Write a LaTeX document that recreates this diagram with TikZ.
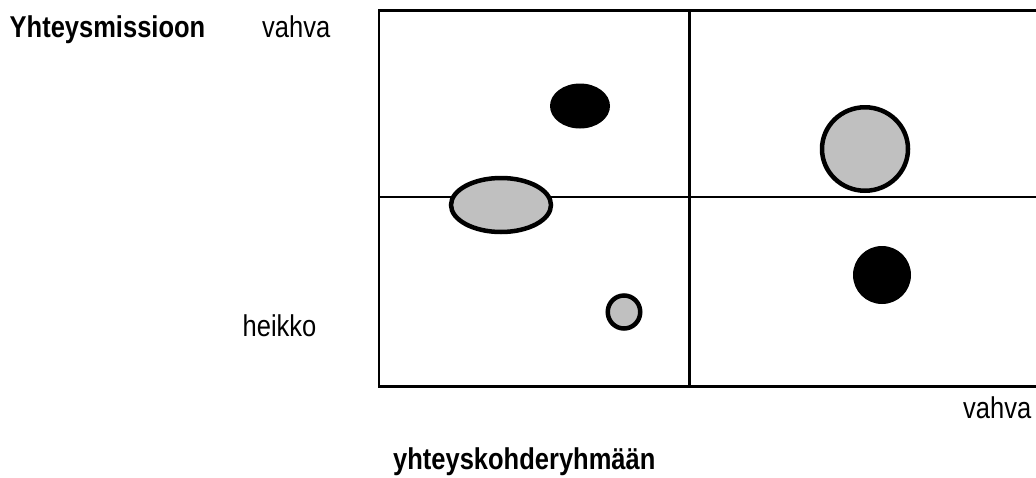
\documentclass[tikz,border=0pt]{standalone}
\usepackage{fontspec}
\setmainfont{Liberation Sans}
\usepackage{xcolor}
\usetikzlibrary{shapes.geometric,positioning}
\definecolor{blobgray}{HTML}{C0C0C0}
\newcommand{\tallword}[1]{\scalebox{1}[1.18]{#1}}

\begin{document}
\begin{tikzpicture}[
  x=1pt, y=1pt,
  lbl/.style={anchor=base west, inner sep=0pt, font=\fontsize{25.5}{30}\selectfont},
  head/.style={lbl, font=\fontsize{25.5}{30}\selectfont\bfseries},
  grid/.style={line width=2.2pt},
  blob/.style={ellipse, inner sep=0pt, fill=black},
  ring/.style={ellipse, inner sep=0pt, draw, line width=4.5pt, fill=blobgray}
]
  \clip (0,0) rectangle (1036,-477);

  % frame of the four fields
  \coordinate (tl) at (378.8,-10.5);
  \coordinate (br) at (1045,-386.5);
  \coordinate (mt) at (689.5,-10.5);
  \coordinate (mb) at (689.5,-386.5);
  \coordinate (ml) at (378.8,-197);
  \coordinate (mr) at (1045,-197);
  \draw[grid] (tl) rectangle (br);
  \draw[grid] (mt) -- (mb);
  \draw[grid] (ml) -- (mr);

  % groups
  \node[blob, minimum width=60, minimum height=45] (b1) at (580,-106) {};
  \node[blob, minimum width=58, minimum height=58] (b2) at (882,-275) {};
  \node[ring, minimum width=86, minimum height=83.5] (g1) at (865,-149) {};
  \node[ring, minimum width=100, minimum height=54] (g2) at (501,-205) {};
  \node[ring, minimum width=32.5, minimum height=33] (g3) at (624,-312) {};

  % labels
  \node[head] (ylab) at (9.5,-37) {\tallword{Yhteysmissioon}};
  \node[lbl] (yhi) at (262,-37) {\tallword{vahva}};
  \node[lbl] (ylo) at (242.5,-336.5) {\tallword{heikko}};
  \node[lbl] (xhi) at (963,-418) {\tallword{vahva}};
  \node[head] (xlab) at (393,-469) {\tallword{yhteyskohderyhmään}};
\end{tikzpicture}
\end{document}
